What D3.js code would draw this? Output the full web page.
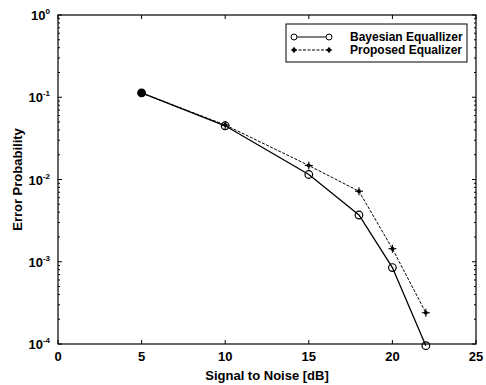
<!DOCTYPE html>
<html>
<head>
<meta charset="utf-8">
<script src="https://cdn.jsdelivr.net/npm/d3@7"></script>
<style>
  body { margin: 0; background: #fff; }
  text { font-family: "Liberation Sans", Arial, sans-serif; fill: #000; }
</style>
</head>
<body>
<svg id="chart" width="486" height="385"></svg>
<script>
var snr = [5, 10, 15, 18, 20, 22];
var bayesian = [0.113, 0.045, 0.0115, 0.0037, 0.00085, 0.0000955];
var proposed = [0.113, 0.046, 0.0148, 0.0072, 0.00144, 0.00024];
var xTicks = [0, 5, 10, 15, 20, 25];
var yTicks = [0, -1, -2, -3, -4];
var seriesNames = ["Bayesian Equallizer", "Proposed Equalizer"];

var margin = { top: 15, right: 10, bottom: 41, left: 58 };
var width = 486 - margin.left - margin.right;
var height = 385 - margin.top - margin.bottom;

var svg = d3.select("#chart")
  .append("g")
  .attr("transform", "translate(" + margin.left + "," + margin.top + ")");

var x = d3.scaleLinear().domain([0, 25]).range([0, width]);
var y = d3.scaleLog().domain([1e-4, 1]).range([height, 0]);

// minor log ticks
var minor = [];
for (var e = -4; e < 0; e++) {
  for (var m = 2; m <= 9; m++) minor.push(m * Math.pow(10, e));
}

var tickG = svg.append("g").attr("stroke", "#000").attr("stroke-width", 1);
xTicks.forEach(function (t) {
  tickG.append("line").attr("x1", x(t)).attr("x2", x(t)).attr("y1", height).attr("y2", height - 4);
  tickG.append("line").attr("x1", x(t)).attr("x2", x(t)).attr("y1", 0).attr("y2", 4);
});
yTicks.forEach(function (p) {
  var v = Math.pow(10, p);
  tickG.append("line").attr("x1", 0).attr("x2", 4).attr("y1", y(v)).attr("y2", y(v));
  tickG.append("line").attr("x1", width).attr("x2", width - 4).attr("y1", y(v)).attr("y2", y(v));
});
minor.forEach(function (v) {
  tickG.append("line").attr("x1", 0).attr("x2", 2).attr("y1", y(v)).attr("y2", y(v));
  tickG.append("line").attr("x1", width).attr("x2", width - 2).attr("y1", y(v)).attr("y2", y(v));
});

// box
svg.append("rect")
  .attr("width", width).attr("height", height)
  .attr("fill", "none").attr("stroke", "#000").attr("stroke-width", 1.2);

// x tick labels
svg.append("g").selectAll("text")
  .data(xTicks).enter().append("text")
  .attr("x", function (d) { return x(d); })
  .attr("y", height + 17)
  .attr("text-anchor", "middle")
  .style("font-size", "13px").style("font-weight", "bold")
  .text(function (d) { return d; });

// y tick labels 10^p
var yl = svg.append("g").selectAll("text")
  .data(yTicks).enter().append("text")
  .attr("x", -8)
  .attr("y", function (d) { return y(Math.pow(10, d)) + 5; })
  .attr("text-anchor", "end")
  .style("font-size", "13px").style("font-weight", "bold");
yl.append("tspan").text("10");
yl.append("tspan").attr("dy", -6).style("font-size", "8px").text(function (d) { return d; });

// axis labels
svg.append("text")
  .attr("x", width / 2).attr("y", height + 36)
  .attr("text-anchor", "middle")
  .style("font-size", "13px").style("font-weight", "bold")
  .text("Signal to Noise [dB]");
svg.append("text")
  .attr("transform", "rotate(-90)")
  .attr("x", -height / 2).attr("y", -36)
  .attr("text-anchor", "middle")
  .style("font-size", "13px").style("font-weight", "bold")
  .text("Error Probability");

var line = d3.line()
  .x(function (d, i) { return x(snr[i]); })
  .y(function (d) { return y(d); });

// proposed (dashed with + markers)
svg.append("path")
  .attr("d", line(proposed))
  .attr("fill", "none").attr("stroke", "#000").attr("stroke-width", 1)
  .attr("stroke-dasharray", "3,1.5");
function plus(g, cx, cy, s) {
  g.append("line").attr("x1", cx - s).attr("x2", cx + s).attr("y1", cy).attr("y2", cy);
  g.append("line").attr("x1", cx).attr("x2", cx).attr("y1", cy - s).attr("y2", cy + s);
  g.append("circle").attr("cx", cx).attr("cy", cy).attr("r", 1.4).attr("fill", "#000");
}
var pg = svg.append("g").attr("stroke", "#000").attr("stroke-width", 1.1);
proposed.forEach(function (v, i) { plus(pg, x(snr[i]), y(v), 4); });

// bayesian (solid with open circles)
svg.append("path")
  .attr("d", line(bayesian))
  .attr("fill", "none").attr("stroke", "#000").attr("stroke-width", 1.3);
svg.append("g").selectAll("circle")
  .data(bayesian).enter().append("circle")
  .attr("cx", function (d, i) { return x(snr[i]); })
  .attr("cy", function (d) { return y(d); })
  .attr("r", 3.8)
  .attr("fill", function (d, i) { return i === 0 ? "#000" : "none"; })
  .attr("stroke", "#000").attr("stroke-width", 1.2);

// legend
var lg = svg.append("g").attr("transform", "translate(" + (286 - margin.left) + "," + (24 - margin.top) + ")");
lg.append("rect").attr("width", 181).attr("height", 38)
  .attr("fill", "#fff").attr("stroke", "#000").attr("stroke-width", 1);
lg.append("line").attr("x1", 8).attr("x2", 43).attr("y1", 13).attr("y2", 13)
  .attr("stroke", "#000").attr("stroke-width", 1);
[8, 43].forEach(function (cx) {
  lg.append("circle").attr("cx", cx).attr("cy", 13).attr("r", 3)
    .attr("fill", "#fff").attr("stroke", "#000").attr("stroke-width", 1);
});
lg.append("line").attr("x1", 8).attr("x2", 43).attr("y1", 26).attr("y2", 26)
  .attr("stroke", "#000").attr("stroke-width", 1).attr("stroke-dasharray", "3,1.5");
var lp = lg.append("g").attr("stroke", "#000").attr("stroke-width", 1.1);
plus(lp, 8, 26, 3);
plus(lp, 43, 26, 3);
lg.selectAll("text.leg").data(seriesNames).enter().append("text")
  .attr("x", 64).attr("y", function (d, i) { return 17 + i * 13; })
  .style("font-size", "12px").style("font-weight", "bold")
  .text(function (d) { return d; });
</script>
</body>
</html>
